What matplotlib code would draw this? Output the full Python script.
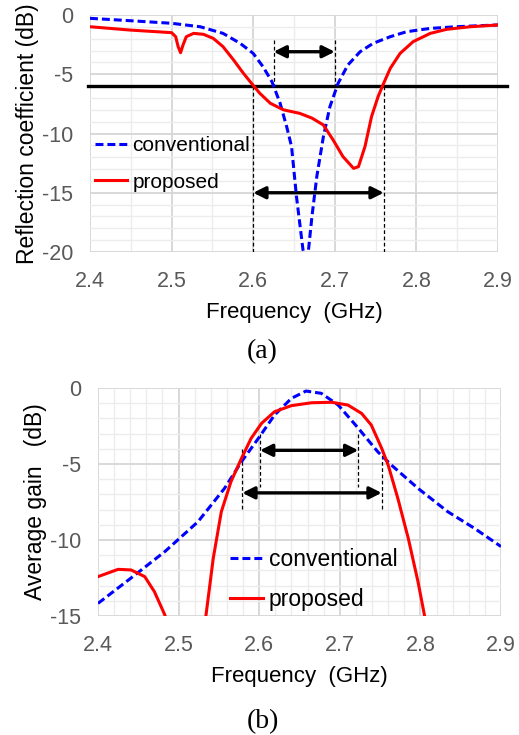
import matplotlib
matplotlib.use("Agg")
import matplotlib.pyplot as plt
from matplotlib.ticker import MultipleLocator

plt.rcParams["axes.unicode_minus"] = False

# (a) reflection coefficient
f_conv_a = [2.400, 2.449, 2.500, 2.535, 2.563, 2.584, 2.600, 2.612, 2.623, 2.633, 2.641, 2.647,
            2.653, 2.661, 2.666, 2.672, 2.678, 2.686, 2.694, 2.704, 2.716, 2.731, 2.747, 2.768,
            2.788, 2.817, 2.849, 2.878, 2.900]
s_conv_a = [-0.28, -0.48, -0.70, -0.99, -1.55, -2.39, -3.24, -4.36, -5.63, -7.45, -9.42, -11.1,
            -15.3, -19.8, -21.0, -17.0, -13.6, -10.27, -7.74, -5.77, -4.22, -3.10, -2.39, -1.83,
            -1.41, -1.13, -0.99, -0.90, -0.84]

f_prop_a = [2.400, 2.449, 2.500, 2.505, 2.508, 2.511, 2.514, 2.518, 2.527, 2.539, 2.551, 2.563,
            2.576, 2.588, 2.598, 2.608, 2.621, 2.637, 2.657, 2.672, 2.686, 2.698, 2.710, 2.723,
            2.729, 2.737, 2.745, 2.753, 2.759, 2.768, 2.780, 2.796, 2.817, 2.837, 2.866, 2.900]
s_prop_a = [-0.99, -1.27, -1.49, -1.83, -2.67, -3.18, -2.53, -1.83, -1.55, -1.63, -1.97, -2.67,
            -3.80, -4.92, -5.77, -6.60, -7.45, -8.00, -8.30, -8.70, -9.28, -10.55, -11.95, -12.94,
            -12.80, -11.10, -8.58, -6.90, -5.90, -4.50, -3.24, -2.25, -1.55, -1.21, -0.99, -0.84]

# (b) average gain
f_conv_b = [2.400, 2.441, 2.483, 2.524, 2.557, 2.578, 2.599, 2.619, 2.640, 2.658, 2.677, 2.698,
            2.723, 2.747, 2.764, 2.797, 2.834, 2.867, 2.900]
g_conv_b = [-14.17, -12.5, -10.76, -8.8, -6.6, -4.85, -3.31, -1.78, -0.68, -0.20, -0.35, -1.12,
            -2.65, -4.19, -5.07, -6.6, -8.14, -9.23, -10.43]

f_prop_b1 = [2.400, 2.425, 2.441, 2.458, 2.470, 2.483, 2.490]
g_prop_b1 = [-12.41, -11.93, -11.97, -12.41, -13.4, -14.94, -16.5]
f_prop_b2 = [2.530, 2.534, 2.543, 2.553, 2.565, 2.578, 2.590, 2.603, 2.619, 2.640, 2.665, 2.690,
             2.710, 2.727, 2.739, 2.752, 2.760, 2.772, 2.785, 2.797, 2.805, 2.810]
g_prop_b2 = [-16.5, -14.94, -11.2, -8.14, -6.16, -4.63, -3.31, -2.32, -1.56, -1.16, -0.97, -0.94,
             -1.12, -1.67, -2.43, -3.97, -5.07, -7.26, -9.9, -12.74, -14.94, -16.5]

# bandwidth markers: (x0, x1, arrow y, dash top, dash bottom)
bw_a = [(2.625, 2.700, -3.1, -2.1, -6.0), (2.600, 2.760, -15.0, -6.0, -20.0)]
bw_b = [(2.601, 2.723, -4.1, -3.0, -6.5), (2.579, 2.752, -6.9, -4.0, -7.96)]

font = "Liberation Sans"

fig = plt.figure(figsize=(5.19, 7.35), dpi=100)
ax1 = fig.add_axes([90/519, 1-252/735, 408/519, 237/735])
ax2 = fig.add_axes([98/519, 1-616/735, 403/519, 228/735])


def style(ax, ymin, ymax, xminor, ylabel):
    ax.set_xlim(2.4, 2.9)
    ax.set_ylim(ymin, ymax)
    ax.xaxis.set_major_locator(MultipleLocator(0.1))
    ax.xaxis.set_minor_locator(MultipleLocator(xminor))
    ax.yaxis.set_major_locator(MultipleLocator(5))
    ax.yaxis.set_minor_locator(MultipleLocator(1))
    ax.grid(which="minor", color="#ececec", lw=1.0)
    ax.grid(which="major", color="#d6d6d6", lw=1.3)
    ax.set_axisbelow(True)
    for s in ax.spines.values():
        s.set_visible(False)
    ax.tick_params(which="both", length=0, labelsize=15.5, labelcolor="#595959")
    ax.tick_params(axis="x", pad=14)
    ax.tick_params(axis="y", pad=12)
    for lab in ax.get_xticklabels() + ax.get_yticklabels():
        lab.set_fontfamily(font)
    ax.set_xlabel("Frequency  (GHz)", fontsize=16, family=font, labelpad=7)
    ax.set_ylabel(ylabel, fontsize=16.5, family=font, labelpad=2)


def bandwidth(ax, marks):
    for x0, x1, ya, yt, yb in marks:
        ax.plot([x0, x0], [yt, yb], color="black", ls=(0, (3, 2)), lw=0.9)
        ax.plot([x1, x1], [yt, yb], color="black", ls=(0, (3, 2)), lw=0.9)
        ax.annotate("", xy=(x1, ya), xytext=(x0, ya),
                    arrowprops=dict(arrowstyle="<|-|>", color="black", lw=2.4,
                                    mutation_scale=18, shrinkA=0, shrinkB=0))


style(ax1, -20, 0, 0.05, "Reflection coefficient (dB)")
ax1.plot([2.3976, 2.911], [-6, -6], color="black", lw=2.4, clip_on=False, zorder=3)
bandwidth(ax1, bw_a)
l1, = ax1.plot(f_conv_a, s_conv_a, color="#0000ff", lw=2.2, dashes=(2.6, 1.3), zorder=4)
l2, = ax1.plot(f_prop_a, s_prop_a, color="#ff0000", lw=2.2, zorder=5)
ax1.legend([l1, l2], ["conventional", "proposed"], loc="upper left",
           bbox_to_anchor=(0.012, 0.49), frameon=False, handlelength=1.55,
           handletextpad=0.25, labelspacing=0.85, borderpad=0, borderaxespad=0,
           prop={"family": font, "size": 15})

style(ax2, -15, 0, 0.02, "Average gain   (dB)")
bandwidth(ax2, bw_b)
m1, = ax2.plot(f_conv_b, g_conv_b, color="#0000ff", lw=2.2, dashes=(2.6, 1.3), zorder=4)
ax2.plot(f_prop_b1, g_prop_b1, color="#ff0000", lw=2.2, zorder=5)
m2, = ax2.plot(f_prop_b2, g_prop_b2, color="#ff0000", lw=2.2, zorder=5)
ax2.legend([m1, m2], ["conventional", "proposed"], loc="upper left",
           bbox_to_anchor=(0.3275, 0.298), frameon=False, handlelength=1.45,
           handletextpad=0.25, labelspacing=0.74, borderpad=0, borderaxespad=0,
           prop={"family": font, "size": 16.5})

fig.text(262/519, 1-352/735, "(a)", ha="center", va="center", fontsize=20, family="Liberation Serif")
fig.text(263/519, 1-722/735, "(b)", ha="center", va="center", fontsize=20, family="Liberation Serif")

fig.savefig("out.png", dpi=100)
